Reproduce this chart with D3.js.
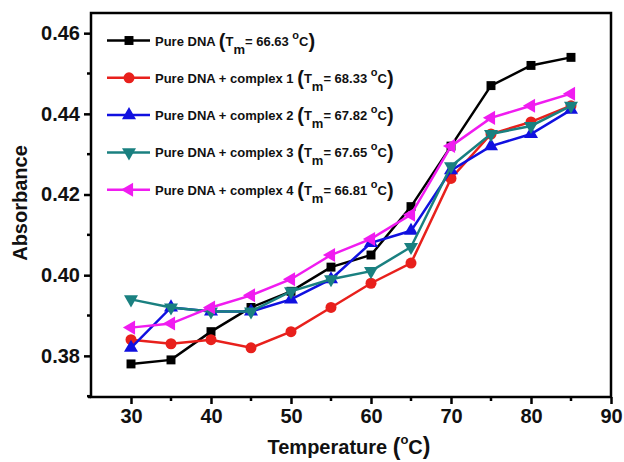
<!DOCTYPE html>
<html>
<head>
<meta charset="utf-8">
<script src="https://cdn.jsdelivr.net/npm/d3@7"></script>
<style>
  body { margin: 0; background: #fff; }
  text { font-family: Arial, "Liberation Sans", sans-serif; font-weight: bold; fill: #111; }
</style>
</head>
<body>
<div id="chart"></div>
<script>
const svgWidth = 624;
const svgHeight = 462;
const margin = { top: 13, right: 13, bottom: 65, left: 91 };
const width = svgWidth - margin.left - margin.right;
const height = svgHeight - margin.top - margin.bottom;

// Data
const temperature = [30, 35, 40, 45, 50, 55, 60, 65, 70, 75, 80, 85];
const pureDNA   = [0.378, 0.379, 0.386, 0.392, 0.396, 0.402, 0.405, 0.417, 0.432, 0.447, 0.452, 0.454];
const complex1  = [0.384, 0.383, 0.384, 0.382, 0.386, 0.392, 0.398, 0.403, 0.424, 0.435, 0.438, 0.442];
const complex2  = [0.382, 0.392, 0.391, 0.391, 0.394, 0.399, 0.408, 0.411, 0.426, 0.432, 0.435, 0.441];
const complex3  = [0.394, 0.392, 0.391, 0.391, 0.396, 0.399, 0.401, 0.407, 0.427, 0.435, 0.437, 0.442];
const complex4  = [0.387, 0.388, 0.392, 0.395, 0.399, 0.405, 0.409, 0.415, 0.432, 0.439, 0.442, 0.445];

const seriesNames = ["Pure DNA", "Pure DNA + complex 1", "Pure DNA + complex 2", "Pure DNA + complex 3", "Pure DNA + complex 4"];
const tmValues = ["66.63", "68.33", "67.82", "67.65", "66.81"];
const xTicks = [30, 40, 50, 60, 70, 80, 90];
const yTicks = [0.38, 0.40, 0.42, 0.44, 0.46];

const seriesValues = [pureDNA, complex1, complex2, complex3, complex4];
const colors = ["#000000", "#e8201c", "#1010e0", "#1a8080", "#f01cf0"];
const symbols = [d3.symbolSquare, d3.symbolCircle, "up", "down", "left"];

const svg = d3.select("#chart")
  .append("svg")
  .attr("width", svgWidth)
  .attr("height", svgHeight);

const chartGroup = svg.append("g")
  .attr("transform", `translate(${margin.left}, ${margin.top})`);

const xScale = d3.scaleLinear().domain([25, 90]).range([0, width]);
const yScale = d3.scaleLinear().domain([0.3698, 0.465]).range([height, 0]);

// frame
chartGroup.append("rect")
  .attr("width", width)
  .attr("height", height)
  .attr("fill", "none")
  .attr("stroke", "#000")
  .attr("stroke-width", 2.5);

// x axis (major + minor ticks)
const xMinor = d3.range(35, 90, 10);
const xAxisG = chartGroup.append("g").attr("transform", `translate(0, ${height})`);
xAxisG.call(d3.axisBottom(xScale).tickValues(xTicks).tickSize(7).tickPadding(5))
  .call(g => g.select(".domain").remove());
xAxisG.selectAll(".tick line").attr("stroke-width", 2.5);
xAxisG.selectAll("text").style("font-size", "20px").attr("fill", "#111");
xAxisG.selectAll(".minor").data(xMinor).enter().append("line")
  .attr("x1", d => xScale(d)).attr("x2", d => xScale(d))
  .attr("y1", 0).attr("y2", 4)
  .attr("stroke", "#000").attr("stroke-width", 2.5);
xAxisG.append("line").attr("x1", -3).attr("x2", 0).attr("stroke", "#000").attr("stroke-width", 2.5);

// y axis (major + minor ticks)
const yMinor = [0.37, 0.39, 0.41, 0.43, 0.45];
const yAxisG = chartGroup.append("g");
yAxisG.call(d3.axisLeft(yScale).tickValues(yTicks).tickFormat(d3.format(".2f")).tickSize(7).tickPadding(4))
  .call(g => g.select(".domain").remove());
yAxisG.selectAll(".tick line").attr("stroke-width", 2.5);
yAxisG.selectAll("text").style("font-size", "20px").attr("fill", "#111");
yAxisG.selectAll(".minor").data(yMinor).enter().append("line")
  .attr("y1", d => yScale(d)).attr("y2", d => yScale(d))
  .attr("x1", 0).attr("x2", -4)
  .attr("stroke", "#000").attr("stroke-width", 2.5);

// axis titles
const xTitle = svg.append("text")
  .attr("x", margin.left + width / 2 - 2)
  .attr("y", 454)
  .attr("text-anchor", "middle")
  .style("font-size", "20px");
xTitle.append("tspan").text("Temperature ");
xTitle.append("tspan").style("font-size", "23px").attr("dy", 1).text("(");
xTitle.append("tspan").style("font-size", "13px").attr("dy", -11).text("o");
xTitle.append("tspan").attr("dy", 10).text("C");
xTitle.append("tspan").style("font-size", "23px").text(")");

svg.append("text")
  .attr("transform", `translate(27, ${margin.top + height / 2 - 2}) rotate(-90)`)
  .attr("text-anchor", "middle")
  .style("font-size", "20px")
  .text("Absorbance");

// marker path helper
function markerPath(sym, size) {
  if (sym === "up" || sym === "down" || sym === "left") return d3.symbol(d3.symbolTriangle, size)();
  return d3.symbol(sym, size)();
}
function markerRotate(sym) {
  if (sym === "down") return 180;
  if (sym === "left") return -90;
  return 0;
}
const markerSizes = [80, 95, 85, 85, 85];

const line = d3.line()
  .x(d => xScale(d[0]))
  .y(d => yScale(d[1]));

seriesValues.forEach((vals, i) => {
  const pts = temperature.map((t, j) => [t, vals[j]]);
  chartGroup.append("path")
    .datum(pts)
    .attr("fill", "none")
    .attr("stroke", colors[i])
    .attr("stroke-width", 2.5)
    .attr("d", line);
  chartGroup.selectAll(".m" + i)
    .data(pts)
    .enter()
    .append("path")
    .attr("d", markerPath(symbols[i], markerSizes[i]))
    .attr("transform", d => `translate(${xScale(d[0])}, ${yScale(d[1])}) rotate(${markerRotate(symbols[i])})`)
    .attr("fill", colors[i]);
});

// legend
const legend = svg.append("g");
seriesNames.forEach((name, i) => {
  const ly = 40.5 + i * 37.3;
  legend.append("line")
    .attr("x1", 107).attr("x2", 150)
    .attr("y1", ly).attr("y2", ly)
    .attr("stroke", colors[i]).attr("stroke-width", 2.5);
  legend.append("path")
    .attr("d", markerPath(symbols[i], markerSizes[i]))
    .attr("transform", `translate(129, ${ly}) rotate(${markerRotate(symbols[i])})`)
    .attr("fill", colors[i]);
  const t = legend.append("text")
    .attr("x", 155)
    .attr("y", ly + 5)
    .style("font-size", "13px");
  t.append("tspan").text(name + " ");
  t.append("tspan").style("font-size", "20px").attr("dy", 2).text("(");
  t.append("tspan").attr("dy", -2).text("T");
  t.append("tspan").style("font-size", "13px").attr("dy", 8).text("m");
  t.append("tspan").attr("dy", -8).text("= " + tmValues[i] + " ");
  t.append("tspan").style("font-size", "11px").attr("dy", -7).text("o");
  t.append("tspan").attr("dy", 7).text("C");
  t.append("tspan").style("font-size", "20px").attr("dy", 2).text(")");
});
</script>
</body>
</html>
